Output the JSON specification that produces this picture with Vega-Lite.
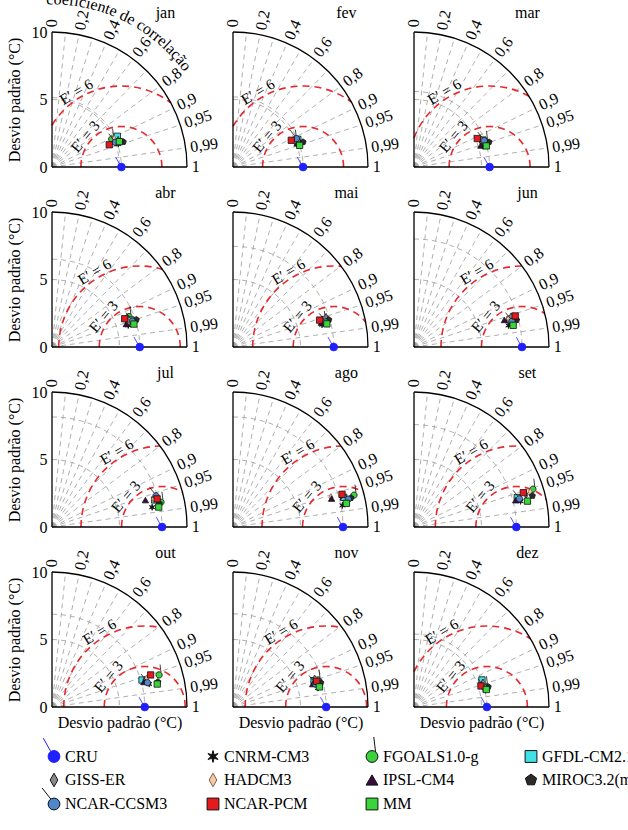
{
  "$schema": "https://vega.github.io/schema/vega-lite/v6.json",
  "autosize": {"type": "none"},
  "padding": {"left": 52, "top": 32, "right": 79, "bottom": 123},
  "params": [
    {"name": "width", "value": 497},
    {"name": "height", "value": 675}
  ],
  "background": "white",
  "bounds": "flush",
  "config": {
    "font": "Liberation Serif",
    "view": {"stroke": null},
    "header": {"labels": false, "title": null, "labelFontSize": 0, "labelPadding": 0, "titlePadding": 0},
    "headerFacet": {"labels": false, "title": null, "labelFontSize": 0, "labelPadding": 0},
    "axis": {"grid": false, "ticks": false, "domain": false, "labelFont": "Liberation Serif", "titleFont": "Liberation Serif", "labelFontSize": 16, "titleFontSize": 16, "titleFontWeight": "normal", "labelColor": "#000", "titleColor": "#000"},
    "axisX": {"labels": false, "titlePadding": 7},
    "axisY": {"labelPadding": 5, "titlePadding": 9},
    "legend": {"orient": "none", "legendX": -6, "legendY": 716, "direction": "horizontal", "columns": 4, "symbolSize": 140, "labelFont": "Liberation Serif", "labelFontSize": 16, "labelColor": "#000", "columnPadding": 10, "rowPadding": -3, "gridAlign": "all", "symbolStrokeWidth": 1, "labelOffset": 3, "labelLimit": 200}
  },
  "data": {"values": [
    {"mes": "jan", "modelo": "CRU", "dp": 5.14, "r": 1},
    {"mes": "jan", "modelo": "CNRM-CM3", "dp": 5.19, "r": 0.945},
    {"mes": "jan", "modelo": "FGOALS1.0-g", "dp": 4.88, "r": 0.906},
    {"mes": "jan", "modelo": "GFDL-CM2.1", "dp": 5.35, "r": 0.905},
    {"mes": "jan", "modelo": "GISS-ER", "dp": 5.29, "r": 0.926},
    {"mes": "jan", "modelo": "HADCM3", "dp": 5.06, "r": 0.910},
    {"mes": "jan", "modelo": "IPSL-CM4", "dp": 5.16, "r": 0.930},
    {"mes": "jan", "modelo": "MIROC3.2(medres)", "dp": 5.60, "r": 0.943},
    {"mes": "jan", "modelo": "NCAR-CCSM3", "dp": 5.02, "r": 0.931},
    {"mes": "jan", "modelo": "NCAR-PCM", "dp": 4.55, "r": 0.932},
    {"mes": "jan", "modelo": "MM", "dp": 5.33, "r": 0.936},
    {"mes": "fev", "modelo": "CRU", "dp": 5.19, "r": 1},
    {"mes": "fev", "modelo": "CNRM-CM3", "dp": 5.19, "r": 0.945},
    {"mes": "fev", "modelo": "FGOALS1.0-g", "dp": 4.97, "r": 0.916},
    {"mes": "fev", "modelo": "GFDL-CM2.1", "dp": 5.22, "r": 0.920},
    {"mes": "fev", "modelo": "GISS-ER", "dp": 5.23, "r": 0.928},
    {"mes": "fev", "modelo": "HADCM3", "dp": 4.96, "r": 0.928},
    {"mes": "fev", "modelo": "IPSL-CM4", "dp": 5.06, "r": 0.938},
    {"mes": "fev", "modelo": "MIROC3.2(medres)", "dp": 5.51, "r": 0.942},
    {"mes": "fev", "modelo": "NCAR-CCSM3", "dp": 5.15, "r": 0.913},
    {"mes": "fev", "modelo": "NCAR-PCM", "dp": 4.75, "r": 0.909},
    {"mes": "fev", "modelo": "MM", "dp": 5.19, "r": 0.951},
    {"mes": "mar", "modelo": "CRU", "dp": 5.6, "r": 1},
    {"mes": "mar", "modelo": "CNRM-CM3", "dp": 5.33, "r": 0.957},
    {"mes": "mar", "modelo": "FGOALS1.0-g", "dp": 5.63, "r": 0.941},
    {"mes": "mar", "modelo": "GFDL-CM2.1", "dp": 5.48, "r": 0.931},
    {"mes": "mar", "modelo": "GISS-ER", "dp": 5.33, "r": 0.938},
    {"mes": "mar", "modelo": "HADCM3", "dp": 5.41, "r": 0.933},
    {"mes": "mar", "modelo": "IPSL-CM4", "dp": 5.20, "r": 0.952},
    {"mes": "mar", "modelo": "MIROC3.2(medres)", "dp": 5.86, "r": 0.949},
    {"mes": "mar", "modelo": "NCAR-CCSM3", "dp": 5.55, "r": 0.936},
    {"mes": "mar", "modelo": "NCAR-PCM", "dp": 5.14, "r": 0.912},
    {"mes": "mar", "modelo": "MM", "dp": 5.58, "r": 0.960},
    {"mes": "abr", "modelo": "CRU", "dp": 6.5, "r": 1},
    {"mes": "abr", "modelo": "CNRM-CM3", "dp": 5.87, "r": 0.962},
    {"mes": "abr", "modelo": "FGOALS1.0-g", "dp": 6.13, "r": 0.930},
    {"mes": "abr", "modelo": "GFDL-CM2.1", "dp": 6.18, "r": 0.946},
    {"mes": "abr", "modelo": "GISS-ER", "dp": 5.87, "r": 0.954},
    {"mes": "abr", "modelo": "HADCM3", "dp": 6.07, "r": 0.947},
    {"mes": "abr", "modelo": "IPSL-CM4", "dp": 5.76, "r": 0.955},
    {"mes": "abr", "modelo": "MIROC3.2(medres)", "dp": 6.57, "r": 0.951},
    {"mes": "abr", "modelo": "NCAR-CCSM3", "dp": 6.25, "r": 0.952},
    {"mes": "abr", "modelo": "NCAR-PCM", "dp": 5.78, "r": 0.932},
    {"mes": "abr", "modelo": "MM", "dp": 6.30, "r": 0.963},
    {"mes": "mai", "modelo": "CRU", "dp": 7.46, "r": 1},
    {"mes": "mai", "modelo": "CNRM-CM3", "dp": 6.80, "r": 0.970},
    {"mes": "mai", "modelo": "FGOALS1.0-g", "dp": 6.96, "r": 0.962},
    {"mes": "mai", "modelo": "GFDL-CM2.1", "dp": 7.10, "r": 0.958},
    {"mes": "mai", "modelo": "GISS-ER", "dp": 7.24, "r": 0.952},
    {"mes": "mai", "modelo": "HADCM3", "dp": 7.04, "r": 0.959},
    {"mes": "mai", "modelo": "IPSL-CM4", "dp": 6.79, "r": 0.964},
    {"mes": "mai", "modelo": "MIROC3.2(medres)", "dp": 7.38, "r": 0.962},
    {"mes": "mai", "modelo": "NCAR-CCSM3", "dp": 7.10, "r": 0.965},
    {"mes": "mai", "modelo": "NCAR-PCM", "dp": 6.72, "r": 0.955},
    {"mes": "mai", "modelo": "MM", "dp": 7.16, "r": 0.971},
    {"mes": "jun", "modelo": "CRU", "dp": 8.0, "r": 1},
    {"mes": "jun", "modelo": "CNRM-CM3", "dp": 7.18, "r": 0.975},
    {"mes": "jun", "modelo": "FGOALS1.0-g", "dp": 7.51, "r": 0.972},
    {"mes": "jun", "modelo": "GFDL-CM2.1", "dp": 7.38, "r": 0.962},
    {"mes": "jun", "modelo": "GISS-ER", "dp": 7.54, "r": 0.954},
    {"mes": "jun", "modelo": "HADCM3", "dp": 7.31, "r": 0.958},
    {"mes": "jun", "modelo": "IPSL-CM4", "dp": 6.99, "r": 0.958},
    {"mes": "jun", "modelo": "MIROC3.2(medres)", "dp": 7.86, "r": 0.967},
    {"mes": "jun", "modelo": "NCAR-CCSM3", "dp": 7.50, "r": 0.967},
    {"mes": "jun", "modelo": "NCAR-PCM", "dp": 7.84, "r": 0.956},
    {"mes": "jun", "modelo": "MM", "dp": 7.52, "r": 0.977},
    {"mes": "jul", "modelo": "CRU", "dp": 8.15, "r": 1},
    {"mes": "jul", "modelo": "CNRM-CM3", "dp": 7.56, "r": 0.981},
    {"mes": "jul", "modelo": "FGOALS1.0-g", "dp": 8.28, "r": 0.975},
    {"mes": "jul", "modelo": "GFDL-CM2.1", "dp": 7.86, "r": 0.967},
    {"mes": "jul", "modelo": "GISS-ER", "dp": 7.96, "r": 0.961},
    {"mes": "jul", "modelo": "HADCM3", "dp": 7.81, "r": 0.964},
    {"mes": "jul", "modelo": "IPSL-CM4", "dp": 7.20, "r": 0.961},
    {"mes": "jul", "modelo": "MIROC3.2(medres)", "dp": 8.14, "r": 0.977},
    {"mes": "jul", "modelo": "NCAR-CCSM3", "dp": 8.04, "r": 0.958},
    {"mes": "jul", "modelo": "NCAR-PCM", "dp": 8.06, "r": 0.966},
    {"mes": "jul", "modelo": "MM", "dp": 8.04, "r": 0.983},
    {"mes": "ago", "modelo": "CRU", "dp": 8.15, "r": 1},
    {"mes": "ago", "modelo": "CNRM-CM3", "dp": 8.26, "r": 0.981},
    {"mes": "ago", "modelo": "FGOALS1.0-g", "dp": 9.27, "r": 0.967},
    {"mes": "ago", "modelo": "GFDL-CM2.1", "dp": 8.49, "r": 0.966},
    {"mes": "ago", "modelo": "GISS-ER", "dp": 8.33, "r": 0.961},
    {"mes": "ago", "modelo": "HADCM3", "dp": 7.58, "r": 0.957},
    {"mes": "ago", "modelo": "IPSL-CM4", "dp": 7.60, "r": 0.961},
    {"mes": "ago", "modelo": "MIROC3.2(medres)", "dp": 9.00, "r": 0.971},
    {"mes": "ago", "modelo": "NCAR-CCSM3", "dp": 8.79, "r": 0.972},
    {"mes": "ago", "modelo": "NCAR-PCM", "dp": 8.43, "r": 0.958},
    {"mes": "ago", "modelo": "MM", "dp": 8.58, "r": 0.979},
    {"mes": "set", "modelo": "CRU", "dp": 7.58, "r": 1},
    {"mes": "set", "modelo": "CNRM-CM3", "dp": 8.12, "r": 0.972},
    {"mes": "set", "modelo": "FGOALS1.0-g", "dp": 9.24, "r": 0.953},
    {"mes": "set", "modelo": "GFDL-CM2.1", "dp": 7.95, "r": 0.962},
    {"mes": "set", "modelo": "GISS-ER", "dp": 8.64, "r": 0.961},
    {"mes": "set", "modelo": "HADCM3", "dp": 8.99, "r": 0.957},
    {"mes": "set", "modelo": "IPSL-CM4", "dp": 7.79, "r": 0.967},
    {"mes": "set", "modelo": "MIROC3.2(medres)", "dp": 9.07, "r": 0.967},
    {"mes": "set", "modelo": "NCAR-CCSM3", "dp": 8.08, "r": 0.966},
    {"mes": "set", "modelo": "NCAR-PCM", "dp": 8.49, "r": 0.954},
    {"mes": "set", "modelo": "MM", "dp": 8.62, "r": 0.975},
    {"mes": "out", "modelo": "CRU", "dp": 6.87, "r": 1},
    {"mes": "out", "modelo": "CNRM-CM3", "dp": 7.40, "r": 0.973},
    {"mes": "out", "modelo": "FGOALS1.0-g", "dp": 8.28, "r": 0.958},
    {"mes": "out", "modelo": "GFDL-CM2.1", "dp": 6.96, "r": 0.958},
    {"mes": "out", "modelo": "GISS-ER", "dp": 7.18, "r": 0.960},
    {"mes": "out", "modelo": "HADCM3", "dp": 7.31, "r": 0.958},
    {"mes": "out", "modelo": "IPSL-CM4", "dp": 7.05, "r": 0.965},
    {"mes": "out", "modelo": "MIROC3.2(medres)", "dp": 8.06, "r": 0.973},
    {"mes": "out", "modelo": "NCAR-CCSM3", "dp": 7.30, "r": 0.969},
    {"mes": "out", "modelo": "NCAR-PCM", "dp": 7.68, "r": 0.951},
    {"mes": "out", "modelo": "MM", "dp": 7.98, "r": 0.977},
    {"mes": "nov", "modelo": "CRU", "dp": 6.9, "r": 1},
    {"mes": "nov", "modelo": "CNRM-CM3", "dp": 6.45, "r": 0.976},
    {"mes": "nov", "modelo": "FGOALS1.0-g", "dp": 6.61, "r": 0.953},
    {"mes": "nov", "modelo": "GFDL-CM2.1", "dp": 6.31, "r": 0.951},
    {"mes": "nov", "modelo": "GISS-ER", "dp": 6.40, "r": 0.945},
    {"mes": "nov", "modelo": "HADCM3", "dp": 6.46, "r": 0.951},
    {"mes": "nov", "modelo": "IPSL-CM4", "dp": 6.14, "r": 0.961},
    {"mes": "nov", "modelo": "MIROC3.2(medres)", "dp": 6.75, "r": 0.964},
    {"mes": "nov", "modelo": "NCAR-CCSM3", "dp": 6.33, "r": 0.963},
    {"mes": "nov", "modelo": "NCAR-PCM", "dp": 6.48, "r": 0.956},
    {"mes": "nov", "modelo": "MM", "dp": 6.57, "r": 0.974},
    {"mes": "dez", "modelo": "CRU", "dp": 5.4, "r": 1},
    {"mes": "dez", "modelo": "CNRM-CM3", "dp": 5.44, "r": 0.973},
    {"mes": "dez", "modelo": "FGOALS1.0-g", "dp": 5.51, "r": 0.962},
    {"mes": "dez", "modelo": "GFDL-CM2.1", "dp": 5.42, "r": 0.929},
    {"mes": "dez", "modelo": "GISS-ER", "dp": 5.41, "r": 0.943},
    {"mes": "dez", "modelo": "HADCM3", "dp": 5.42, "r": 0.950},
    {"mes": "dez", "modelo": "IPSL-CM4", "dp": 5.25, "r": 0.952},
    {"mes": "dez", "modelo": "MIROC3.2(medres)", "dp": 5.70, "r": 0.965},
    {"mes": "dez", "modelo": "NCAR-CCSM3", "dp": 5.40, "r": 0.963},
    {"mes": "dez", "modelo": "NCAR-PCM", "dp": 5.20, "r": 0.954},
    {"mes": "dez", "modelo": "MM", "dp": 5.51, "r": 0.972}
  ]},
  "facet": {
    "field": "mes", "type": "nominal",
    "sort": ["jan", "fev", "mar", "abr", "mai", "jun", "jul", "ago", "set", "out", "nov", "dez"],
    "header": {"title": null, "labels": false}
  },
  "columns": 3,
  "spacing": {"row": 45, "column": 46},
  "spec": {
    "width": 135,
    "height": 135,
    "encoding": {
      "x": {"field": "px", "type": "quantitative", "scale": {"domain": [0, 10], "nice": false}, "title": "Desvio padrão (°C)"},
      "y": {"field": "py", "type": "quantitative", "scale": {"domain": [0, 10], "nice": false}, "title": "Desvio padrão (°C)", "axis": {"values": [0, 5, 10]}}
    },
    "layer": [
      {
        "description": "Arcos de desvio padrão (raio 5 e raio do CRU), centrados na origem",
        "transform": [
          {"filter": "datum.modelo == 'CRU'"},
          {"calculate": "[5, datum.dp]", "as": "raio"},
          {"flatten": ["raio"]},
          {"calculate": "0", "as": "px"},
          {"calculate": "0", "as": "py"},
          {"calculate": "'M 0 ' + (-datum.raio) + ' A ' + datum.raio + ' ' + datum.raio + ' 0 0 1 ' + datum.raio + ' 0'", "as": "arco"}
        ],
        "mark": {"type": "point", "shape": {"expr": "datum.arco"}, "filled": false, "size": 729, "opacity": 1, "stroke": "#9c9c9c", "strokeWidth": 0.8, "strokeDash": [5, 4]}
      },
      {
        "description": "Linhas radiais de correlação",
        "transform": [
          {"filter": "datum.modelo == 'CRU'"},
          {"calculate": "[0.1, 0.2, 0.3, 0.4, 0.5, 0.6, 0.7, 0.8, 0.9, 0.95, 0.99]", "as": "cc"},
          {"flatten": ["cc"]},
          {"calculate": "0", "as": "px"},
          {"calculate": "0", "as": "py"},
          {"calculate": "10 * datum.cc", "as": "px2"},
          {"calculate": "10 * sqrt(1 - datum.cc * datum.cc)", "as": "py2"}
        ],
        "mark": {"type": "rule", "color": "#9c9c9c", "strokeWidth": 0.8, "strokeDash": [5, 4]},
        "encoding": {"x2": {"field": "px2"}, "y2": {"field": "py2"}}
      },
      {
        "description": "Arcos de erro quadrático médio centrado (E' = 3 e E' = 6) em torno do CRU, recortados pelo quadrante",
        "transform": [
          {"filter": "datum.modelo == 'CRU'"},
          {"calculate": "[3, 6]", "as": "E"},
          {"flatten": ["E"]},
          {"calculate": "datum.dp >= datum.E ? PI : acos(-datum.dp / datum.E)", "as": "fmax"},
          {"calculate": "(100 - datum.dp * datum.dp - datum.E * datum.E) / (2 * datum.dp * datum.E)", "as": "k"},
          {"calculate": "datum.k >= 1 ? 0 : acos(datum.k)", "as": "fmin"},
          {"calculate": "datum.dp", "as": "px"},
          {"calculate": "0", "as": "py"},
          {"calculate": "'M ' + round(1000 * datum.E * cos(datum.fmax)) / 1000 + ' ' + round(-1000 * datum.E * sin(datum.fmax)) / 1000 + ' A ' + datum.E + ' ' + datum.E + ' 0 0 1 ' + round(1000 * datum.E * cos(datum.fmin)) / 1000 + ' ' + round(-1000 * datum.E * sin(datum.fmin)) / 1000", "as": "arco"}
        ],
        "mark": {"type": "point", "shape": {"expr": "datum.arco"}, "filled": false, "size": 729, "opacity": 1, "stroke": "#e8282c", "strokeWidth": 1.6, "strokeDash": [7, 5]}
      },
      {
        "description": "Arco externo (desvio padrão 10)",
        "transform": [
          {"filter": "datum.modelo == 'CRU'"},
          {"calculate": "0", "as": "px"},
          {"calculate": "0", "as": "py"}
        ],
        "mark": {"type": "point", "shape": "M 0 -10 A 10 10 0 0 1 10 0", "filled": false, "size": 729, "opacity": 1, "stroke": "#000", "strokeWidth": 1.3}
      },
      {
        "description": "Eixos do diagrama",
        "transform": [
          {"filter": "datum.modelo == 'CRU'"},
          {"calculate": "[0, 1]", "as": "eixo"},
          {"flatten": ["eixo"]},
          {"calculate": "0", "as": "px"},
          {"calculate": "0", "as": "py"},
          {"calculate": "datum.eixo == 1 ? 10 : 0", "as": "px2"},
          {"calculate": "datum.eixo == 0 ? 10 : 0", "as": "py2"}
        ],
        "mark": {"type": "rule", "color": "#000", "strokeWidth": 1.3},
        "encoding": {"x2": {"field": "px2"}, "y2": {"field": "py2"}}
      },
      {
        "description": "Rótulos do coeficiente de correlação",
        "transform": [
          {"filter": "datum.modelo == 'CRU'"},
          {"calculate": "[0, 0.2, 0.4, 0.6, 0.8, 0.9, 0.95, 0.99, 1]", "as": "cl"},
          {"flatten": ["cl"]},
          {"calculate": "10.35 * datum.cl", "as": "px"},
          {"calculate": "10.35 * sqrt(1 - datum.cl * datum.cl)", "as": "py"},
          {"calculate": "-acos(datum.cl) * 180 / PI", "as": "rot"},
          {"calculate": "replace(toString(datum.cl), '.', ',')", "as": "txt"}
        ],
        "mark": {"type": "text", "align": "left", "baseline": "middle", "fontSize": 16, "color": "#000", "angle": {"expr": "datum.rot"}},
        "encoding": {"text": {"field": "txt"}}
      },
      {
        "description": "Rótulos E' dos arcos de erro",
        "transform": [
          {"filter": "datum.modelo == 'CRU'"},
          {"calculate": "[3, 6]", "as": "E"},
          {"flatten": ["E"]},
          {"calculate": "datum.E == 3 ? 140 : 121", "as": "fi"},
          {"calculate": "datum.dp + (datum.E + 0.5) * cos(datum.fi * PI / 180)", "as": "px"},
          {"calculate": "(datum.E + 0.5) * sin(datum.fi * PI / 180)", "as": "py"},
          {"calculate": "90 - datum.fi", "as": "rot"},
          {"calculate": "'E′ = ' + datum.E", "as": "txt"}
        ],
        "mark": {"type": "text", "align": "center", "baseline": "middle", "fontSize": 15, "color": "#000", "angle": {"expr": "datum.rot"}},
        "encoding": {"text": {"field": "txt"}}
      },
      {
        "description": "Nome do mês",
        "transform": [
          {"filter": "datum.modelo == 'CRU'"},
          {"calculate": "8.4", "as": "px"},
          {"calculate": "11.4", "as": "py"}
        ],
        "mark": {"type": "text", "align": "center", "baseline": "middle", "fontSize": 16, "color": "#000"},
        "encoding": {"text": {"field": "mes"}}
      },
      {
        "description": "Título curvo do eixo de correlação, só no primeiro painel",
        "transform": [
          {"filter": "datum.mes == 'jan' && datum.modelo == 'CRU'"},
          {"calculate": "split('coeficiente de correlação', '')", "as": "ch"},
          {"flatten": ["ch"]},
          {"calculate": "indexof('iltj', datum.ch) >= 0 ? 0.278 : (indexof('fr', datum.ch) >= 0 ? 0.333 : (datum.ch == ' ' ? 0.25 : (indexof('odnu', datum.ch) >= 0 ? 0.5 : 0.444)))", "as": "w"},
          {"window": [{"op": "sum", "field": "w", "as": "acum"}], "groupby": ["mes"], "frame": [null, 0]},
          {"calculate": "92 - (datum.acum - datum.w / 2) * (16 / 13.5) / 12.05 * 180 / PI", "as": "fi"},
          {"calculate": "12.05 * cos(datum.fi * PI / 180)", "as": "px"},
          {"calculate": "12.05 * sin(datum.fi * PI / 180)", "as": "py"},
          {"calculate": "90 - datum.fi", "as": "rot"}
        ],
        "mark": {"type": "text", "align": "center", "baseline": "alphabetic", "fontSize": 16, "color": "#000", "angle": {"expr": "datum.rot"}},
        "encoding": {"text": {"field": "ch"}}
      },
      {
        "description": "Modelos e referência CRU",
        "transform": [
          {"calculate": "datum.dp * datum.r", "as": "px"},
          {"calculate": "datum.dp * sqrt(max(0, 1 - datum.r * datum.r))", "as": "py"}
        ],
        "mark": {"type": "point", "filled": true, "size": 40, "opacity": 1, "strokeWidth": 0.8},
        "encoding": {
          "shape": {
            "field": "modelo", "type": "nominal", "legend": {"title": null},
            "scale": {
              "domain": ["CRU", "CNRM-CM3", "FGOALS1.0-g", "GFDL-CM2.1", "GISS-ER", "HADCM3", "IPSL-CM4", "MIROC3.2(medres)", "NCAR-CCSM3", "NCAR-PCM", "MM"],
              "range": [
                "M-0.55,-0.85L-1.8,-3.1M1,0A1,1,0,1,1,-1,0A1,1,0,1,1,1,0Z",
                "M0,-1L0.175,-0.303L0.866,-0.5L0.35,0L0.866,0.5L0.175,0.303L0,1L-0.175,0.303L-0.866,0.5L-0.35,0L-0.866,-0.5L-0.175,-0.303Z",
                "M0.6,-0.8L0.3,-3.3M1,0A1,1,0,1,1,-1,0A1,1,0,1,1,1,0Z",
                "square",
                "M0,-1.15L0.65,0L0,1.15L-0.65,0Z",
                "M0,-1.15L0.65,0L0,1.15L-0.65,0Z",
                "triangle-up",
                "M0,-1L0.951,-0.309L0.588,0.809L-0.588,0.809L-0.951,-0.309Z",
                "M-0.55,-0.85L-2,-2.7M1,0A1,1,0,1,1,-1,0A1,1,0,1,1,1,0Z",
                "square",
                "square"
              ]
            }
          },
          "fill": {
            "field": "modelo", "type": "nominal", "legend": {"title": null},
            "scale": {
              "domain": ["CRU", "CNRM-CM3", "FGOALS1.0-g", "GFDL-CM2.1", "GISS-ER", "HADCM3", "IPSL-CM4", "MIROC3.2(medres)", "NCAR-CCSM3", "NCAR-PCM", "MM"],
              "range": ["#1f1fff", "#111111", "#3ad13a", "#3fe0e6", "#8a8a8a", "#f6c9a2", "#3a0c3c", "#2b2b2b", "#4f87c9", "#e41a1c", "#38d638"]
            }
          },
          "stroke": {
            "field": "modelo", "type": "nominal", "legend": {"title": null},
            "scale": {
              "domain": ["CRU", "CNRM-CM3", "FGOALS1.0-g", "GFDL-CM2.1", "GISS-ER", "HADCM3", "IPSL-CM4", "MIROC3.2(medres)", "NCAR-CCSM3", "NCAR-PCM", "MM"],
              "range": ["#1f1fff", "#111111", "#111111", "#111111", "#111111", "#7a6050", "#111111", "#111111", "#111111", "#111111", "#111111"]
            }
          }
        }
      },
      {
        "description": "Ponto de referência CRU realçado",
        "transform": [
          {"filter": "datum.modelo == 'CRU'"},
          {"calculate": "datum.dp", "as": "px"},
          {"calculate": "0", "as": "py"}
        ],
        "mark": {"type": "point", "shape": "circle", "filled": true, "size": 60, "opacity": 1, "fill": "#1f1fff", "stroke": "#1f1fff", "strokeWidth": 0.8}
      }
    ]
  }
}
